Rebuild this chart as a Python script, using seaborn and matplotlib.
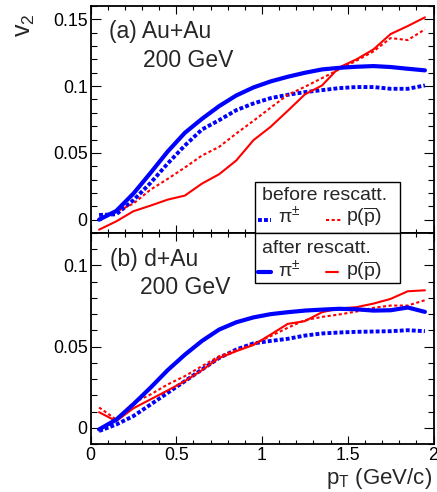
import matplotlib
matplotlib.use("Agg")
import matplotlib.pyplot as plt
import seaborn as sns
import pandas as pd
from matplotlib.ticker import MultipleLocator, FixedLocator, FixedFormatter
from matplotlib.patches import Rectangle
from matplotlib.lines import Line2D

# ---------------- data ----------------
pt = [0.05, 0.15, 0.25, 0.35, 0.45, 0.55, 0.65, 0.75, 0.85, 0.95,
      1.05, 1.15, 1.25, 1.35, 1.45, 1.55, 1.65, 1.75, 1.85, 1.95]

auau_pi_after = [0.000, 0.0065, 0.0195, 0.035, 0.051, 0.065, 0.0755, 0.085, 0.093, 0.099,
                 0.1035, 0.107, 0.110, 0.1125, 0.1137, 0.1145, 0.115, 0.1143, 0.113, 0.1118]
auau_pi_before = [0.0035, 0.004, 0.0145, 0.0275, 0.042, 0.0555, 0.0675, 0.0745, 0.082, 0.087,
                  0.091, 0.0935, 0.0955, 0.097, 0.0985, 0.0993, 0.0993, 0.098, 0.098, 0.1005]
auau_p_after = [-0.0075, -0.0013, 0.0063, 0.0105, 0.015, 0.018, 0.027, 0.034, 0.0443, 0.0595,
                0.0695, 0.0815, 0.0938, 0.1005, 0.114, 0.120, 0.1275, 0.139, 0.145, 0.1515]
auau_p_before = [-0.0005, 0.006, 0.012, 0.0225, 0.0305, 0.039, 0.048, 0.0545, 0.0645, 0.074,
                 0.0838, 0.0935, 0.0995, 0.106, 0.1125, 0.119, 0.126, 0.136, 0.1345, 0.1425]

dau_pi_after = [-0.001, 0.005, 0.0145, 0.0247, 0.0355, 0.045, 0.0535, 0.0605, 0.065, 0.068,
                0.070, 0.0712, 0.0722, 0.0728, 0.0733, 0.073, 0.0722, 0.0724, 0.0741, 0.0714]
dau_pi_before = [-0.002, 0.002, 0.0072, 0.0143, 0.0215, 0.0287, 0.0359, 0.043, 0.0482, 0.052,
                 0.0535, 0.0548, 0.0568, 0.0581, 0.0587, 0.0591, 0.0593, 0.0595, 0.0601, 0.0595]
dau_p_after = [0.0096, 0.0041, 0.012, 0.0175, 0.023, 0.0287, 0.0355, 0.043, 0.0472, 0.051,
               0.0574, 0.064, 0.0657, 0.0712, 0.0735, 0.0743, 0.0765, 0.0794, 0.0841, 0.0847]
dau_p_before = [0.0125, 0.0051, 0.0154, 0.0205, 0.0267, 0.0318, 0.038, 0.0441, 0.0478, 0.0515,
                0.0564, 0.0616, 0.0663, 0.0683, 0.0698, 0.0716, 0.0739, 0.0753, 0.0753, 0.0786]

xticks = [0, 0.5, 1, 1.5, 2]
xticklabels = ["0", "0.5", "1", "1.5", "2"]
yticks_top = [0, 0.05, 0.1, 0.15]
yticklabels_top = ["0", "0.05", "0.1", "0.15"]
yticks_bot = [0, 0.05, 0.1]
yticklabels_bot = ["0", "0.05", "0.1"]

panel_a = ["(a) Au+Au", "200 GeV"]
panel_b = ["(b) d+Au", "200 GeV"]
leg_titles = ["before rescatt.", "after rescatt."]
pi_label = r"$\mathrm{\pi}^{\pm}$"
p_label = r"p($\overline{\mathrm{p}}$)"

# ---------------- style ----------------
sns.set_theme(style="ticks")
plt.rcParams["font.family"] = ["Liberation Sans", "DejaVu Sans"]
plt.rcParams["mathtext.fontset"] = "custom"
plt.rcParams["mathtext.rm"] = "Liberation Sans"
plt.rcParams["mathtext.it"] = "Liberation Sans:italic"
plt.rcParams["mathtext.bf"] = "Liberation Sans:bold"
plt.rcParams["mathtext.sf"] = "Liberation Sans"

W, H = 437, 492
fig = plt.figure(figsize=(W / 100, H / 100), dpi=100)
fig.patch.set_facecolor("white")

def fx(x):
    return x / W

def fy(y):
    return 1 - y / H

L, R = 90.5, 433.5
ax1 = fig.add_axes([fx(L), fy(233), fx(R) - fx(L), (233 - 6) / H])
ax2 = fig.add_axes([fx(L), fy(444), fx(R) - fx(L), (444 - 233) / H])

BLUE = (0, 0, 1)
RED = (1, 0, 0)
sty = {
    "pi_after": dict(color=BLUE, lw=3.0, linestyle="-"),
    "pi_before": dict(color=BLUE, lw=2.8, linestyle=(0, (1, 0.55))),
    "p_after": dict(color=RED, lw=1.5, linestyle="-"),
    "p_before": dict(color=RED, lw=1.5, linestyle=(0, (1.5, 1.2))),
}

def draw(ax, series):
    for key, vals in series:
        df = pd.DataFrame({"pt": pt, "v2": vals})
        sns.lineplot(data=df, x="pt", y="v2", ax=ax, sort=False, **sty[key])

draw(ax1, [("pi_before", auau_pi_before), ("p_before", auau_p_before),
           ("p_after", auau_p_after), ("pi_after", auau_pi_after)])
draw(ax2, [("pi_before", dau_pi_before), ("p_before", dau_p_before),
           ("p_after", dau_p_after), ("pi_after", dau_pi_after)])

for ax, yt, ytl, ylim in [(ax1, yticks_top, yticklabels_top, (-0.01, 0.16)),
                          (ax2, yticks_bot, yticklabels_bot, (-0.01, 0.12))]:
    ax.set_xlim(0, 2)
    ax.set_ylim(*ylim)
    ax.set_facecolor("white")
    ax.xaxis.set_major_locator(FixedLocator(xticks))
    ax.xaxis.set_major_formatter(FixedFormatter(xticklabels))
    ax.xaxis.set_minor_locator(MultipleLocator(0.1))
    ax.yaxis.set_major_locator(FixedLocator(yt))
    ax.yaxis.set_major_formatter(FixedFormatter(ytl))
    ax.yaxis.set_minor_locator(MultipleLocator(0.01))
    ax.set_xlabel("")
    ax.set_ylabel("")
    for s in ax.spines.values():
        s.set_color("black")
        s.set_linewidth(1.3)
    ax.tick_params(axis="both", which="both", direction="in", top=True, right=True,
                   color="black", width=0.8, labelcolor="black")
    ax.tick_params(axis="x", which="major", length=5.8, labelsize=12.8, pad=2.5)
    ax.tick_params(axis="x", which="minor", length=3.0)
    ax.tick_params(axis="y", which="major", length=7.5, labelsize=12.8, pad=2)
    ax.tick_params(axis="y", which="minor", length=4.0)

ax1.tick_params(axis="x", labelbottom=False)

ax1.text(0.053, 0.861, panel_a[0], transform=ax1.transAxes, fontsize=16.5, va="baseline")
ax1.text(0.153, 0.733, panel_a[1], transform=ax1.transAxes, fontsize=16.5, va="baseline")
ax2.text(0.056, 0.8436, panel_b[0], transform=ax2.transAxes, fontsize=16.5, va="baseline")
ax2.text(0.145, 0.711, panel_b[1], transform=ax2.transAxes, fontsize=16.5, va="baseline")

ax1.set_ylabel("v$_{2}$", fontsize=18, loc="top")
ax1.yaxis.set_label_coords(-0.157, 0.968)
ax2.set_xlabel("p$_{\\mathrm{T}}$ (GeV/c)", fontsize=16, loc="right")
ax2.xaxis.set_label_coords(0.996, -0.104)

# ---------------- legend (two stacked boxes) ----------------
def legend_box(y_top, y_bot, title, title_base, row_base, row_line, keys, lens):
    fig.add_artist(Rectangle((fx(255), fy(y_bot)), fx(400.3) - fx(255), (y_bot - y_top) / H,
                             transform=fig.transFigure, facecolor="white",
                             edgecolor="black", lw=1.0, zorder=10))
    fig.text(fx(262), fy(title_base), title, fontsize=14, va="baseline", zorder=11)
    (k1, k2) = keys
    l1 = Line2D([fx(257.7), fx(257.7 + lens[0])], [fy(row_line)] * 2,
                transform=fig.transFigure, zorder=11, **sty[k1])
    l2 = Line2D([fx(326), fx(326 + lens[1])], [fy(row_line)] * 2,
                transform=fig.transFigure, zorder=11, **sty[k2])
    fig.add_artist(l1)
    fig.add_artist(l2)
    fig.text(fx(278), fy(row_base), pi_label, fontsize=14, va="baseline", zorder=11)
    fig.text(fx(346), fy(row_base), p_label, fontsize=14, va="baseline", zorder=11)

legend_box(181.7, 233, leg_titles[0], 200, 223, 220, ("pi_before", "p_before"), (13, 15))
legend_box(233, 283.3, leg_titles[1], 252.7, 277, 271.5, ("pi_after", "p_after"), (13, 11.5))

fig.savefig("out.png", dpi=100, facecolor="white")
